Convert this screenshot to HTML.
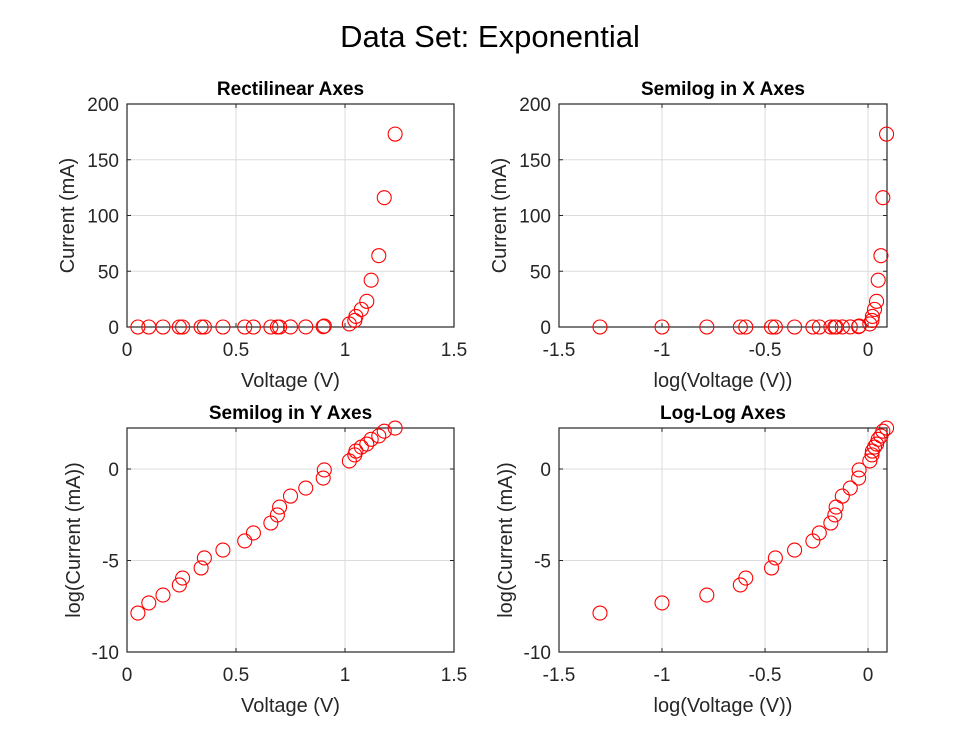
<!DOCTYPE html>
<html><head><meta charset="utf-8"><style>
body{margin:0;background:#fff;}
svg{display:block;font-family:"Liberation Sans",Arial,sans-serif;}
</style></head><body>
<svg id="fig" width="980" height="735">
<text x="490" y="47" text-anchor="middle" font-size="31" fill="#000">Data Set: Exponential</text>
</svg>
<script>
const voltage = [0.05,0.10,0.165,0.24,0.255,0.34,0.355,0.44,0.54,0.58,0.66,0.69,0.70,0.75,0.82,0.90,0.905,1.02,1.045,1.05,1.075,1.10,1.12,1.155,1.18,1.23];
const current = [1.35e-8,4.8e-8,1.29e-7,4.6e-7,1.1e-6,3.9e-6,1.38e-5,3.7e-5,1.17e-4,3.2e-4,1.12e-3,3.1e-3,8.3e-3,0.033,0.091,0.32,0.89,2.75,5.9,9.5,15.8,23,42,64,116,173];
const linTicksX = [0,0.5,1,1.5];
const linTicksY = [0,50,100,150,200];
const logTicksX = [-1.5,-1,-0.5,0];
const logTicksY = [-10,-5,0];

const NS='http://www.w3.org/2000/svg';
const svg=document.getElementById('fig');
function el(tag,attrs,parent){const e=document.createElementNS(NS,tag);for(const k in attrs)e.setAttribute(k,attrs[k]);(parent||svg).appendChild(e);return e;}
const logV=voltage.map(v=>Math.log10(v));
const logI=current.map(c=>Math.log10(c));

function panel(cfg){
  const g=el('g',{});
  
  
  const {L,R,T,B,x0,x1,y0,y1}=cfg;
  const sx=v=>L+(v-x0)/(x1-x0)*(R-L);
  const sy=v=>B-(v-y0)/(y1-y0)*(B-T);
  cfg.xt.forEach(t=>{const x=sx(t);
    const gl=el('line',{x1:x,x2:x,y1:T,y2:B,stroke:'#dcdcdc','stroke-width':1},g);
    
    el('line',{x1:x,x2:x,y1:B,y2:B-4,stroke:'#262626'},g);el('line',{x1:x,x2:x,y1:T,y2:T+4,stroke:'#262626'},g);
    const tx=el('text',{x:x,y:B+29,'text-anchor':'middle','font-size':19,fill:'#262626'},g);tx.textContent=String(t);
    });
  cfg.yt.forEach(t=>{const y=sy(t);
    const gl=el('line',{x1:L,x2:R,y1:y,y2:y,stroke:'#dcdcdc','stroke-width':1},g);
    
    el('line',{x1:L,x2:L+4,y1:y,y2:y,stroke:'#262626'},g);el('line',{x1:R,x2:R-4,y1:y,y2:y,stroke:'#262626'},g);
    const tx=el('text',{x:L-8,y:y+7,'text-anchor':'end','font-size':19,fill:'#262626'},g);tx.textContent=String(t);
    });
  const box=el('rect',{x:L,y:T,width:R-L,height:B-T,fill:'none',stroke:'#262626','stroke-width':1.2},g);
  
  cfg.xs.forEach((xv,i)=>{
    const c=el('circle',{cx:sx(xv),cy:sy(cfg.ys[i]),r:7,fill:'none',stroke:'#ff0000','stroke-width':1.1},g);
    });
  const ti=el('text',{x:(L+R)/2,y:T-9,'text-anchor':'middle','font-size':19,'font-weight':'bold',fill:'#000'},g);ti.textContent=cfg.title;
  
  const xl=el('text',{x:(L+R)/2,y:B+60,'text-anchor':'middle','font-size':20,fill:'#262626'},g);xl.textContent=cfg.xl;
  
  const yx=cfg.yOff,ym=(T+B)/2;
  const yl=el('text',{x:yx,y:ym,'text-anchor':'middle','font-size':20,fill:'#262626',transform:`rotate(-90 ${yx} ${ym})`},g);yl.textContent=cfg.yl;
  
}
panel({name:'rectilinear-axes',L:127,R:454,T:104,B:327,x0:0,x1:1.5,y0:0,y1:200,xt:linTicksX,yt:linTicksY,xs:voltage,ys:current,title:'Rectilinear Axes',xl:'Voltage (V)',yl:'Current (mA)',yOff:74});
panel({name:'semilog-x-axes',L:559,R:887,T:104,B:327,x0:-1.5,x1:0.092,y0:0,y1:200,xt:logTicksX,yt:linTicksY,xs:logV,ys:current,title:'Semilog in X Axes',xl:'log(Voltage (V))',yl:'Current (mA)',yOff:506});
panel({name:'semilog-y-axes',L:127,R:454,T:428,B:652,x0:0,x1:1.5,y0:-10,y1:2.24,xt:linTicksX,yt:logTicksY,xs:voltage,ys:logI,title:'Semilog in Y Axes',xl:'Voltage (V)',yl:'log(Current (mA))',yOff:80});
panel({name:'log-log-axes',L:559,R:887,T:428,B:652,x0:-1.5,x1:0.092,y0:-10,y1:2.24,xt:logTicksX,yt:logTicksY,xs:logV,ys:logI,title:'Log-Log Axes',xl:'log(Voltage (V))',yl:'log(Current (mA))',yOff:512});
</script>
</body></html>
